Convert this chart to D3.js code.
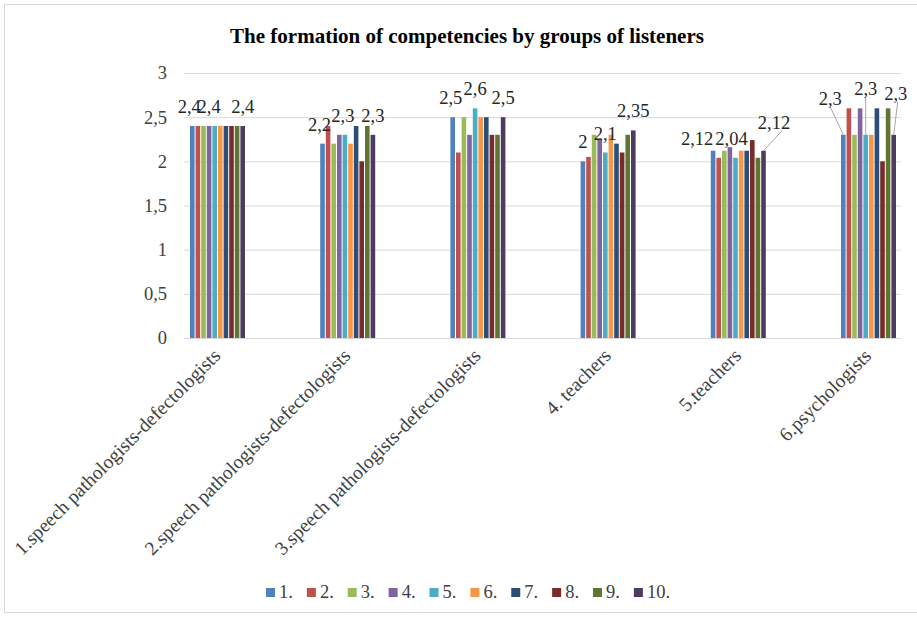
<!DOCTYPE html>
<html>
<head>
<meta charset="utf-8">
<script src="https://cdn.jsdelivr.net/npm/d3@7"></script>
<style>
  html, body { margin: 0; padding: 0; background: #fff; }
  svg { display: block; }
</style>
</head>
<body>
<div id="chart"></div>
<script>
// Categories (listener groups)
const categories = [
  '1.speech pathologists-defectologists',
  '2.speech pathologists-defectologists',
  '3.speech pathologists-defectologists',
  '4. teachers',
  '5.teachers',
  '6.psychologists'
];

const seriesNames = ['1.', '2.', '3.', '4.', '5.', '6.', '7.', '8.', '9.', '10.'];

// Series values, one entry per category
const s1 = [2.4, 2.2, 2.5, 2.0, 2.12, 2.3];
const s2 = [2.4, 2.4, 2.1, 2.05, 2.04, 2.6];
const s3 = [2.4, 2.2, 2.5, 2.3, 2.12, 2.3];
const s4 = [2.4, 2.3, 2.3, 2.25, 2.16, 2.6];
const s5 = [2.4, 2.3, 2.6, 2.1, 2.04, 2.3];
const s6 = [2.4, 2.2, 2.5, 2.3, 2.12, 2.3];
const s7 = [2.4, 2.4, 2.5, 2.2, 2.12, 2.6];
const s8 = [2.4, 2.0, 2.3, 2.1, 2.24, 2.0];
const s9 = [2.4, 2.4, 2.3, 2.3, 2.04, 2.6];
const s10 = [2.4, 2.3, 2.5, 2.35, 2.12, 2.3];
const seriesValues = [s1, s2, s3, s4, s5, s6, s7, s8, s9, s10];

const yTicks = [0, 0.5, 1, 1.5, 2, 2.5, 3];

// Which points carry a data label (category index, series index)
const labelled = [
  [0, 0], [0, 3], [0, 9],
  [1, 0], [1, 4], [1, 9],
  [2, 0], [2, 4], [2, 9],
  [3, 0], [3, 4], [3, 9],
  [4, 0], [4, 4], [4, 9],
  [5, 0], [5, 4], [5, 9]
];

const colors = ['#4F81BD', '#C0504D', '#9BBB59', '#8064A2', '#4BACC6',
                '#F79646', '#2C4D75', '#772C2A', '#5F7530', '#4D3B62'];

// Manual label nudges (dx, dy from default spot; leader = draw leader line)
const labelNudge = {
  '0-0': { dx: -3, dy: 0 },
  '1-0': { dx: -3, dy: 0 },
  '1-4': { dx: -2, dy: 0 },
  '2-0': { dx: -2, dy: 0 },
  '4-0': { dx: -16, dy: 7 },
  '4-4': { dx: -4, dy: 0 },
  '4-9': { dx: 10.5, dy: -9, leader: true, lx: 8 },
  '5-0': { dx: -13, dy: -17, leader: true, lx: 0 },
  '5-4': { dx: 0, dy: -27, leader: true, lx: 0 },
  '5-9': { dx: 2, dy: -22, leader: true, lx: 2 }
};

const W = 917, H = 618;
const FONT = "'Liberation Serif'";

const svg = d3.select('#chart').append('svg')
  .attr('width', W)
  .attr('height', H);

// chart border
svg.append('rect')
  .attr('x', 4.5).attr('y', 4.5)
  .attr('width', 960).attr('height', 608)
  .attr('fill', '#fff')
  .attr('stroke', '#d9d9d9');

// Scales
const plotLeft = 184, plotRight = 901;
const y = d3.scaleLinear().domain([0, 3]).range([338, 73]);
const x0 = d3.scalePoint().domain(categories).range([217.5, 868.5]);
const x1 = d3.scaleBand().domain(seriesNames).range([-27.5, 27.5]).paddingInner(0.18);

// Title
svg.append('text')
  .attr('x', 467).attr('y', 43)
  .attr('text-anchor', 'middle')
  .style('font-family', FONT)
  .style('font-size', '21px')
  .style('font-weight', 'bold')
  .style('fill', '#000')
  .text('The formation of competencies by groups of listeners');

// Grid lines
svg.append('g').selectAll('line')
  .data(yTicks)
  .enter()
  .append('line')
  .attr('x1', plotLeft).attr('x2', plotRight)
  .attr('y1', d => y(d) + 0.5).attr('y2', d => y(d) + 0.5)
  .style('stroke', '#d9d9d9')
  .style('stroke-width', 1);

// Y axis labels
const yAxis = d3.axisLeft(y)
  .tickValues(yTicks)
  .tickSize(0)
  .tickPadding(0)
  .tickFormat(d => String(d).replace('.', ','));

const yG = svg.append('g')
  .attr('transform', 'translate(167, 0)')
  .call(yAxis);
yG.select('.domain').remove();
yG.selectAll('text')
  .style('font-family', FONT)
  .style('font-size', '18.5px')
  .style('fill', '#404040');

// Bars
const groups = svg.append('g').selectAll('g')
  .data(categories)
  .enter()
  .append('g')
  .attr('transform', d => `translate(${x0(d)}, 0)`);

groups.selectAll('rect')
  .data((c, ci) => seriesNames.map((s, si) => ({ s, si, v: seriesValues[si][ci] })))
  .enter()
  .append('rect')
  .attr('x', d => x1(d.s))
  .attr('width', x1.bandwidth())
  .attr('y', d => y(d.v))
  .attr('height', d => y(0) - y(d.v))
  .style('fill', d => colors[d.si]);

// Data labels
const fmt = v => String(v).replace('.', ',');
const labelData = labelled.map(([ci, si]) => {
  const v = seriesValues[si][ci];
  const bx = x0(categories[ci]) + x1(seriesNames[si]) + x1.bandwidth() / 2;
  const by = y(v);
  const n = labelNudge[`${ci}-${si}`] || { dx: 0, dy: 0 };
  return { v, bx, by, lx: bx + n.dx, ly: by - 13 + n.dy, n };
});

svg.append('g').selectAll('line')
  .data(labelData.filter(d => d.n.leader))
  .enter()
  .append('line')
  .attr('x1', d => d.lx + d.n.lx)
  .attr('y1', d => d.ly + 2)
  .attr('x2', d => d.bx)
  .attr('y2', d => d.by)
  .style('stroke', '#a6a6a6')
  .style('stroke-width', 1);

svg.append('g').selectAll('text')
  .data(labelData)
  .enter()
  .append('text')
  .attr('x', d => d.lx)
  .attr('y', d => d.ly)
  .attr('text-anchor', 'middle')
  .style('font-family', FONT)
  .style('font-size', '18.5px')
  .style('fill', '#262626')
  .text(d => fmt(d.v));

// Category labels, rotated
svg.append('g').selectAll('text')
  .data(categories)
  .enter()
  .append('text')
  .attr('text-anchor', 'end')
  .attr('transform', d => `translate(${x0(d) + 4}, 357) rotate(-45)`)
  .style('font-family', FONT)
  .style('font-size', '19.5px')
  .style('fill', '#404040')
  .text(d => d);

// Legend
const legend = svg.append('g').attr('class', 'legend');
const items = legend.selectAll('g')
  .data(seriesNames)
  .enter()
  .append('g');

items.append('rect')
  .attr('width', 9)
  .attr('height', 9)
  .attr('y', -10)
  .style('fill', (d, i) => colors[i]);

items.append('text')
  .attr('x', 13)
  .attr('y', 0)
  .style('font-family', FONT)
  .style('font-size', '18.5px')
  .style('fill', '#404040')
  .text(d => d);

const gap = 14;
let offs = [];
let cur = 0;
items.each(function () {
  const w = this.getBBox().width;
  offs.push(cur);
  cur += w + gap;
});
const total = cur - gap;
const startX = 468 - total / 2;
items.attr('transform', (d, i) => `translate(${startX + offs[i]}, 598)`);
</script>
</body>
</html>
